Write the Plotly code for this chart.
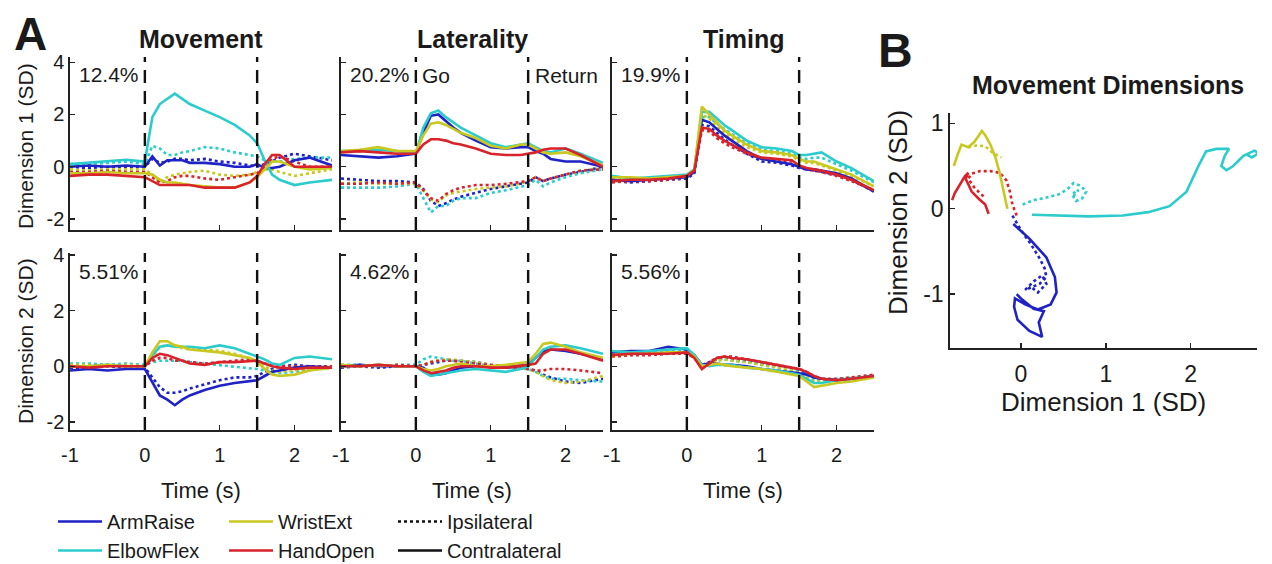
import plotly.graph_objects as go

# page geometry: the html body adds an 8px margin before the figure
PAGE_W, PAGE_H, OFF = 1272, 564, 8
W, H = PAGE_W - OFF, PAGE_H - OFF

# ---------------- data ----------------
T = [-1.0, -0.75, -0.5, -0.25, 0.0, 0.1, 0.2, 0.3, 0.4, 0.5, 0.6, 0.8, 1.0, 1.2, 1.4, 1.5, 1.6, 1.7, 1.8, 2.0, 2.2, 2.5]
EVENTS = [0.0, 1.5]
MOVES = ["ArmRaise", "ElbowFlex", "WristExt", "HandOpen"]
COLORS = ["#1f22c4", "#2ccbcc", "#c8c820", "#d8232a"]
COL_TITLES = ["Movement", "Laterality", "Timing"]
PCT = ["12.4%", "20.2%", "19.9%", "5.51%", "4.62%", "5.56%"]
X_TICKS = [-1, 0, 1, 2]
X_TICKTEXT = ["-1", "0", "1", "2"]
Y_TICKS = [-2, 0, 2, 4]
Y_TICKTEXT = ["-2", "0", "2", "4"]
B_X_TICKS = [0, 1, 2]
B_Y_TICKS = [-1, 0, 1]
B_Y_TICKTEXT = ["-1", "0", "1"]

# Movement, Dimension 1
MV1_ARM_C = [0.0, 0.05, 0.0, 0.05, 0.0, 0.4, 0.05, 0.25, 0.25, 0.25, 0.15, 0.15, 0.1, 0.0, 0.0, 0.1, -0.05, -0.05, 0.0, 0.25, 0.35, 0.05]
MV1_ARM_I = [0.0, -0.05, 0.0, 0.0, 0.0, 0.3, 0.15, 0.2, 0.3, 0.3, 0.25, 0.3, 0.2, 0.15, 0.05, 0.0, 0.1, 0.2, 0.35, 0.5, 0.4, 0.25]
MV1_ELB_C = [0.1, 0.15, 0.2, 0.27, 0.2, 1.9, 2.4, 2.6, 2.8, 2.6, 2.4, 2.15, 1.9, 1.6, 1.2, 0.9, 0.25, -0.3, -0.5, -0.7, -0.6, -0.5]
MV1_ELB_I = [0.1, 0.1, 0.15, 0.2, 0.1, 0.8, 0.7, 0.45, 0.45, 0.55, 0.6, 0.75, 0.7, 0.55, 0.45, 0.4, 0.25, 0.2, 0.2, 0.3, 0.35, 0.35]
MV1_WRI_C = [-0.25, -0.25, -0.2, -0.25, -0.25, -0.3, -0.5, -0.6, -0.6, -0.65, -0.7, -0.75, -0.8, -0.8, -0.6, -0.4, -0.1, 0.2, 0.2, 0.0, -0.1, -0.05]
MV1_WRI_I = [-0.1, -0.15, -0.1, -0.1, -0.1, -0.3, -0.6, -0.4, -0.3, -0.25, -0.2, -0.15, -0.3, -0.35, -0.3, -0.2, -0.1, -0.1, -0.2, -0.35, -0.25, -0.1]
MV1_HAN_C = [-0.35, -0.3, -0.3, -0.35, -0.4, -0.55, -0.7, -0.7, -0.7, -0.7, -0.7, -0.8, -0.8, -0.8, -0.6, -0.35, 0.1, 0.45, 0.45, 0.0, 0.0, 0.0]
MV1_HAN_I = [-0.2, -0.2, -0.15, -0.2, -0.2, -0.4, -0.6, -0.55, -0.4, -0.35, -0.35, -0.45, -0.5, -0.4, -0.3, -0.25, 0.0, 0.3, 0.4, 0.2, 0.0, 0.0]

# Laterality, Dimension 1
LA1_ARM_C = [0.45, 0.4, 0.35, 0.4, 0.5, 1.3, 1.95, 2.0, 1.75, 1.5, 1.3, 1.0, 0.75, 0.7, 0.75, 0.75, 0.6, 0.5, 0.3, 0.2, 0.2, 0.0]
LA1_ARM_I = [-0.45, -0.5, -0.55, -0.55, -0.6, -0.85, -1.3, -1.5, -1.4, -1.25, -1.15, -1.0, -0.85, -0.75, -0.65, -0.6, -0.4, -0.55, -0.45, -0.3, -0.2, 0.0]
LA1_ELB_C = [0.6, 0.6, 0.65, 0.6, 0.5, 1.5, 2.05, 2.15, 1.9, 1.7, 1.5, 1.2, 0.9, 0.75, 0.85, 0.9, 0.75, 0.6, 0.55, 0.7, 0.5, 0.15]
LA1_ELB_I = [-0.8, -0.8, -0.8, -0.75, -0.65, -1.2, -1.75, -1.5, -1.5, -1.3, -1.2, -1.2, -1.0, -0.9, -0.75, -0.7, -0.5, -0.75, -0.6, -0.4, -0.25, -0.1]
LA1_WRI_C = [0.6, 0.65, 0.75, 0.6, 0.6, 1.2, 1.65, 1.7, 1.6, 1.45, 1.3, 1.1, 0.8, 0.7, 0.85, 0.85, 0.7, 0.55, 0.5, 0.55, 0.4, 0.05]
LA1_WRI_I = [-0.65, -0.6, -0.65, -0.65, -0.65, -0.9, -1.25, -1.35, -1.1, -1.0, -0.95, -0.85, -0.8, -0.75, -0.65, -0.55, -0.4, -0.55, -0.45, -0.3, -0.15, -0.05]
LA1_HAN_C = [0.55, 0.6, 0.55, 0.5, 0.5, 0.85, 1.05, 1.05, 1.0, 0.9, 0.85, 0.7, 0.5, 0.45, 0.45, 0.5, 0.55, 0.65, 0.7, 0.7, 0.45, 0.0]
LA1_HAN_I = [-0.65, -0.65, -0.6, -0.65, -0.6, -0.9, -1.2, -1.3, -1.05, -0.9, -0.8, -0.7, -0.7, -0.65, -0.6, -0.55, -0.4, -0.55, -0.45, -0.3, -0.15, -0.1]

# Timing, Dimension 1
TI1_ARM_C = [-0.5, -0.55, -0.5, -0.45, -0.4, -0.2, 1.8, 1.7, 1.45, 1.2, 1.0, 0.6, 0.3, 0.2, 0.1, 0.0, -0.1, -0.1, -0.15, -0.25, -0.45, -0.95]
TI1_ARM_I = [-0.55, -0.6, -0.55, -0.5, -0.45, -0.25, 1.6, 1.55, 1.3, 1.05, 0.85, 0.5, 0.2, 0.15, 0.05, -0.05, -0.1, -0.15, -0.2, -0.3, -0.5, -0.95]
TI1_ELB_C = [-0.35, -0.45, -0.4, -0.35, -0.3, -0.1, 2.1, 2.1, 1.85, 1.6, 1.4, 1.0, 0.75, 0.7, 0.6, 0.45, 0.45, 0.5, 0.55, 0.2, -0.05, -0.55]
TI1_ELB_I = [-0.45, -0.5, -0.45, -0.4, -0.35, -0.15, 1.9, 1.9, 1.65, 1.45, 1.25, 0.9, 0.65, 0.6, 0.5, 0.35, 0.3, 0.35, 0.35, 0.1, -0.15, -0.6]
TI1_WRI_C = [-0.4, -0.4, -0.45, -0.4, -0.35, -0.1, 2.3, 2.0, 1.7, 1.4, 1.2, 0.85, 0.6, 0.55, 0.45, 0.3, 0.2, 0.2, 0.1, -0.1, -0.3, -0.75]
TI1_WRI_I = [-0.45, -0.45, -0.5, -0.45, -0.4, -0.15, 2.0, 1.85, 1.55, 1.3, 1.1, 0.75, 0.55, 0.5, 0.4, 0.25, 0.15, 0.15, 0.05, -0.15, -0.35, -0.75]
TI1_HAN_C = [-0.55, -0.5, -0.5, -0.45, -0.35, -0.15, 1.5, 1.45, 1.2, 1.0, 0.85, 0.55, 0.35, 0.3, 0.25, 0.05, -0.05, -0.1, -0.15, -0.3, -0.5, -0.9]
TI1_HAN_I = [-0.6, -0.55, -0.55, -0.5, -0.4, -0.2, 1.4, 1.35, 1.1, 0.9, 0.75, 0.5, 0.3, 0.25, 0.2, 0.0, -0.1, -0.15, -0.2, -0.35, -0.55, -0.9]

# Movement, Dimension 2
MV2_ARM_C = [-0.15, -0.1, -0.15, -0.1, -0.1, -0.6, -1.05, -1.2, -1.4, -1.2, -1.05, -0.85, -0.7, -0.6, -0.55, -0.5, -0.35, -0.2, -0.15, -0.05, 0.0, -0.05]
MV2_ARM_I = [-0.05, -0.05, 0.0, -0.05, -0.05, -0.4, -0.75, -0.95, -0.95, -0.9, -0.8, -0.65, -0.5, -0.4, -0.4, -0.35, -0.2, -0.1, 0.0, 0.05, 0.0, 0.0]
MV2_ELB_C = [0.0, 0.0, 0.05, 0.0, 0.0, 0.4, 0.7, 0.75, 0.7, 0.7, 0.7, 0.65, 0.75, 0.65, 0.45, 0.35, 0.25, 0.1, 0.05, 0.3, 0.35, 0.25]
MV2_ELB_I = [0.1, 0.1, 0.05, 0.1, 0.05, 0.15, 0.2, 0.2, 0.2, 0.2, 0.15, 0.1, 0.05, 0.0, -0.05, -0.1, -0.15, -0.2, -0.25, -0.2, -0.15, -0.05]
MV2_WRI_C = [0.0, 0.0, 0.05, 0.0, 0.0, 0.5, 0.9, 0.9, 0.75, 0.7, 0.6, 0.55, 0.5, 0.4, 0.3, 0.15, -0.1, -0.3, -0.35, -0.3, -0.15, -0.05]
MV2_WRI_I = [0.05, 0.05, 0.0, 0.05, 0.0, 0.3, 0.7, 0.75, 0.7, 0.65, 0.6, 0.6, 0.55, 0.45, 0.3, 0.2, 0.0, -0.15, -0.2, -0.15, -0.1, 0.0]
MV2_HAN_C = [0.0, -0.05, 0.0, 0.0, 0.0, 0.3, 0.45, 0.4, 0.3, 0.2, 0.1, 0.05, 0.15, 0.15, 0.2, 0.2, 0.1, 0.0, -0.05, -0.1, -0.05, -0.05]
MV2_HAN_I = [0.0, 0.0, 0.05, 0.0, 0.0, 0.2, 0.3, 0.3, 0.2, 0.2, 0.15, 0.1, 0.15, 0.2, 0.25, 0.2, 0.1, 0.05, 0.0, 0.0, 0.0, 0.0]

# Laterality, Dimension 2
LA2_ARM_C = [0.0, 0.05, 0.0, 0.0, 0.0, -0.05, -0.25, -0.3, -0.25, -0.15, -0.05, 0.0, 0.0, -0.05, 0.0, 0.05, 0.3, 0.55, 0.6, 0.55, 0.45, 0.25]
LA2_ARM_I = [-0.05, 0.0, -0.05, 0.0, 0.0, 0.05, 0.1, 0.15, 0.2, 0.2, 0.2, 0.15, 0.05, 0.0, -0.05, -0.1, -0.15, -0.3, -0.4, -0.55, -0.6, -0.45]
LA2_ELB_C = [0.0, 0.0, 0.05, 0.0, 0.0, -0.2, -0.35, -0.3, -0.25, -0.2, -0.15, -0.1, -0.15, -0.2, -0.1, 0.0, 0.3, 0.6, 0.7, 0.75, 0.65, 0.45]
LA2_ELB_I = [0.05, 0.05, 0.0, 0.05, 0.05, 0.25, 0.35, 0.3, 0.25, 0.2, 0.2, 0.1, 0.0, -0.05, -0.1, -0.1, -0.2, -0.35, -0.45, -0.45, -0.5, -0.55]
LA2_WRI_C = [0.05, 0.0, 0.05, 0.0, 0.0, -0.1, -0.15, -0.1, 0.0, 0.05, 0.1, 0.0, 0.0, 0.05, 0.1, 0.15, 0.45, 0.8, 0.85, 0.7, 0.5, 0.3]
LA2_WRI_I = [0.05, 0.0, 0.05, 0.0, 0.0, 0.05, 0.15, 0.2, 0.25, 0.25, 0.2, 0.15, 0.05, 0.0, -0.05, -0.1, -0.2, -0.35, -0.5, -0.6, -0.55, -0.35]
LA2_HAN_C = [0.0, 0.0, 0.05, 0.0, 0.0, -0.15, -0.25, -0.2, -0.15, -0.05, 0.0, 0.0, -0.05, -0.05, 0.0, 0.05, 0.1, 0.45, 0.6, 0.6, 0.45, 0.2]
LA2_HAN_I = [0.0, 0.0, 0.0, 0.05, 0.0, 0.05, 0.15, 0.2, 0.2, 0.2, 0.15, 0.1, 0.05, 0.0, -0.05, -0.1, -0.15, -0.15, -0.1, -0.1, -0.15, -0.25]

# Timing, Dimension 2
TI2_ARM_C = [0.5, 0.55, 0.55, 0.7, 0.6, 0.4, 0.05, 0.1, 0.1, 0.05, 0.05, 0.0, -0.1, -0.15, -0.2, -0.25, -0.3, -0.4, -0.45, -0.5, -0.45, -0.35]
TI2_ARM_I = [0.45, 0.5, 0.5, 0.55, 0.55, 0.35, 0.05, 0.15, 0.25, 0.3, 0.25, 0.2, 0.1, 0.0, -0.1, -0.15, -0.25, -0.4, -0.45, -0.5, -0.45, -0.35]
TI2_ELB_C = [0.55, 0.5, 0.55, 0.6, 0.65, 0.4, 0.05, 0.0, 0.05, 0.05, 0.05, -0.05, -0.1, -0.15, -0.25, -0.3, -0.45, -0.6, -0.6, -0.5, -0.45, -0.35]
TI2_ELB_I = [0.5, 0.5, 0.5, 0.55, 0.6, 0.4, 0.05, 0.1, 0.2, 0.25, 0.2, 0.15, 0.05, -0.05, -0.15, -0.2, -0.35, -0.5, -0.5, -0.45, -0.4, -0.35]
TI2_WRI_C = [0.4, 0.45, 0.45, 0.5, 0.5, 0.35, 0.0, 0.05, 0.1, 0.05, 0.0, -0.05, -0.1, -0.2, -0.3, -0.35, -0.55, -0.75, -0.7, -0.6, -0.55, -0.4]
TI2_WRI_I = [0.35, 0.4, 0.45, 0.45, 0.5, 0.35, 0.0, 0.1, 0.2, 0.25, 0.2, 0.15, 0.05, -0.05, -0.15, -0.25, -0.4, -0.55, -0.55, -0.5, -0.45, -0.35]
TI2_HAN_C = [0.4, 0.45, 0.45, 0.45, 0.5, 0.3, -0.1, 0.1, 0.3, 0.35, 0.3, 0.25, 0.15, 0.05, -0.05, -0.1, -0.2, -0.35, -0.45, -0.5, -0.45, -0.35]
TI2_HAN_I = [0.35, 0.4, 0.4, 0.45, 0.45, 0.3, -0.05, 0.15, 0.3, 0.35, 0.35, 0.25, 0.15, 0.05, -0.05, -0.1, -0.2, -0.35, -0.45, -0.45, -0.4, -0.3]

# Panel B: trajectories in movement dimensions (x = Dim 1, y = Dim 2)
B_ARM_C_X = [-0.09, 0.1, 0.3, 0.4, 0.42, 0.35, 0.2, 0.05, -0.07, -0.08, -0.04, 0.1, 0.25, 0.21, 0.27, 0.15, 0.0, -0.05]
B_ARM_C_Y = [-0.18, -0.35, -0.57, -0.8, -0.98, -1.12, -1.18, -1.12, -1.05, -1.15, -1.3, -1.43, -1.5, -1.33, -1.2, -1.17, -1.05, -1.0]
B_ARM_I_X = [-0.1, 0.0, 0.12, 0.22, 0.28, 0.3, 0.22, 0.12, 0.05, 0.15, 0.25, 0.3, 0.2, 0.1]
B_ARM_I_Y = [-0.08, -0.25, -0.42, -0.58, -0.7, -0.8, -0.88, -0.92, -0.95, -0.85, -0.78, -0.88, -0.98, -0.9]
B_ELB_C_X = [0.13, 0.4, 0.8, 1.2, 1.5, 1.75, 1.95, 2.1, 2.18, 2.3, 2.45, 2.4, 2.36, 2.42, 2.5, 2.62, 2.75, 2.8, 2.72, 2.65]
B_ELB_C_Y = [-0.07, -0.08, -0.09, -0.08, -0.04, 0.03, 0.2, 0.52, 0.67, 0.7, 0.7, 0.62, 0.5, 0.45, 0.5, 0.62, 0.68, 0.65, 0.6, 0.64]
B_ELB_I_X = [0.02, 0.15, 0.3, 0.45, 0.55, 0.62, 0.7, 0.77, 0.72, 0.65, 0.6, 0.68, 0.62]
B_ELB_I_Y = [0.05, 0.1, 0.13, 0.17, 0.23, 0.3, 0.27, 0.2, 0.12, 0.09, 0.17, 0.22, 0.15]
B_WRI_C_X = [-0.16, -0.2, -0.25, -0.3, -0.36, -0.42, -0.46, -0.5, -0.55, -0.62, -0.7, -0.75, -0.79]
B_WRI_C_Y = [0.0, 0.2, 0.42, 0.6, 0.75, 0.86, 0.91, 0.85, 0.78, 0.72, 0.75, 0.62, 0.5]
B_WRI_I_X = [-0.62, -0.52, -0.42, -0.34, -0.27, -0.23]
B_WRI_I_Y = [0.72, 0.74, 0.73, 0.66, 0.62, 0.6]
B_HAN_C_X = [-0.38, -0.42, -0.5, -0.58, -0.65, -0.62, -0.66, -0.72, -0.78, -0.81]
B_HAN_C_Y = [-0.06, 0.05, 0.12, 0.2, 0.35, 0.42, 0.38, 0.28, 0.18, 0.1]
B_HAN_I_X = [-0.05, -0.1, -0.13, -0.17, -0.25, -0.36, -0.48, -0.58, -0.62, -0.55, -0.47, -0.42]
B_HAN_I_Y = [-0.08, 0.05, 0.2, 0.33, 0.42, 0.44, 0.44, 0.41, 0.35, 0.25, 0.17, 0.13]

PANELS = [
    [(MV1_ARM_C, MV1_ARM_I), (MV1_ELB_C, MV1_ELB_I), (MV1_WRI_C, MV1_WRI_I), (MV1_HAN_C, MV1_HAN_I)],
    [(LA1_ARM_C, LA1_ARM_I), (LA1_ELB_C, LA1_ELB_I), (LA1_WRI_C, LA1_WRI_I), (LA1_HAN_C, LA1_HAN_I)],
    [(TI1_ARM_C, TI1_ARM_I), (TI1_ELB_C, TI1_ELB_I), (TI1_WRI_C, TI1_WRI_I), (TI1_HAN_C, TI1_HAN_I)],
    [(MV2_ARM_C, MV2_ARM_I), (MV2_ELB_C, MV2_ELB_I), (MV2_WRI_C, MV2_WRI_I), (MV2_HAN_C, MV2_HAN_I)],
    [(LA2_ARM_C, LA2_ARM_I), (LA2_ELB_C, LA2_ELB_I), (LA2_WRI_C, LA2_WRI_I), (LA2_HAN_C, LA2_HAN_I)],
    [(TI2_ARM_C, TI2_ARM_I), (TI2_ELB_C, TI2_ELB_I), (TI2_WRI_C, TI2_WRI_I), (TI2_HAN_C, TI2_HAN_I)],
]
B_TRAJ = [
    ((B_ARM_C_X, B_ARM_C_Y), (B_ARM_I_X, B_ARM_I_Y)),
    ((B_ELB_C_X, B_ELB_C_Y), (B_ELB_I_X, B_ELB_I_Y)),
    ((B_WRI_C_X, B_WRI_C_Y), (B_WRI_I_X, B_WRI_I_Y)),
    ((B_HAN_C_X, B_HAN_C_Y), (B_HAN_I_X, B_HAN_I_Y)),
]

# ---------------- layout geometry (screen pixels) ----------------
COL_PX = [(70, 332), (341, 603), (612, 874)]
ROW_PX = [(57, 230), (253, 430)]
Y_RANGES = [[-2.42, 4.2], [-2.29, 4.07]]
B_PX_X = (950, 1257)
B_PX_Y = (113, 348)

FONT = "Liberation Sans, Arial, Helvetica, sans-serif"
TXT = "#1a1a1a"
LW = 2.6


def px_x(p):
    return (p - OFF) / W


def px_y(p):
    return 1 - (p - OFF) / H


fig = go.Figure()
layout = dict(
    width=W, height=H,
    margin=dict(l=0, r=0, t=0, b=0, pad=0, autoexpand=False),
    paper_bgcolor="white", plot_bgcolor="white",
    font=dict(family=FONT, color=TXT, size=20),
    hovermode=False,
    showlegend=True,
)

shapes = []
annotations = []

for k in range(6):
    r, c = divmod(k, 3)
    ax = k + 1
    xname = "x" if ax == 1 else f"x{ax}"
    yname = "y" if ax == 1 else f"y{ax}"
    layout["xaxis" if ax == 1 else f"xaxis{ax}"] = dict(
        domain=[px_x(COL_PX[c][0]), px_x(COL_PX[c][1])],
        range=[-1, 2.5], anchor=yname,
        showline=True, linecolor="#222", linewidth=1.6, mirror=False,
        ticks="inside", ticklen=5, tickwidth=1.4, tickcolor="#222",
        tickvals=X_TICKS, ticktext=X_TICKTEXT, showticklabels=(r == 1),
        tickfont=dict(size=20, family=FONT, color=TXT),
        ticklabelstandoff=6,
        showgrid=False, zeroline=False, fixedrange=True,
    )
    layout["yaxis" if ax == 1 else f"yaxis{ax}"] = dict(
        domain=[px_y(ROW_PX[r][1]), px_y(ROW_PX[r][0])],
        range=Y_RANGES[r], anchor=xname,
        showline=True, linecolor="#222", linewidth=1.6,
        ticks="inside", ticklen=5, tickwidth=1.4, tickcolor="#222",
        tickvals=Y_TICKS, ticktext=Y_TICKTEXT, showticklabels=(c == 0),
        tickfont=dict(size=20, family=FONT, color=TXT),
        showgrid=False, zeroline=False, fixedrange=True,
    )
    series = PANELS[k]
    # ipsilateral (dotted) first, contralateral (solid) on top
    for side in (1, 0):
        for m, (name, col) in enumerate(zip(MOVES, COLORS)):
            yvals = series[m][side]
            show = (k == 0 and side == 0)
            fig.add_trace(go.Scatter(
                x=T, y=yvals, mode="lines", xaxis=xname, yaxis=yname,
                line=dict(color=col, width=LW, dash=("solid" if side == 0 else "dot")),
                name=name, showlegend=show,
                legend=("legend" if m in (0, 1) else "legend2"),
                legendrank=m,
            ))
    for ev in EVENTS:
        shapes.append(dict(type="line", xref=xname, yref=f"{yname} domain",
                           x0=ev, x1=ev, y0=0, y1=1,
                           line=dict(color="#111", width=2.4, dash="13px,8px")))

# panel B
layout["xaxis7"] = dict(
    domain=[px_x(B_PX_X[0]), px_x(B_PX_X[1])], range=[-0.835, 2.78], anchor="y7",
    showline=True, linecolor="#222", linewidth=1.8,
    ticks="inside", ticklen=5, tickwidth=1.4, tickcolor="#222",
    tickvals=B_X_TICKS, tickfont=dict(size=23, family=FONT, color=TXT),
    ticklabelstandoff=5,
    showgrid=False, zeroline=False, fixedrange=True,
)
layout["yaxis7"] = dict(
    domain=[px_y(B_PX_Y[1]), px_y(B_PX_Y[0])], range=[-1.63, 1.12], anchor="x7",
    showline=True, linecolor="#222", linewidth=1.8,
    ticks="inside", ticklen=5, tickwidth=1.4, tickcolor="#222",
    tickvals=B_Y_TICKS, ticktext=B_Y_TICKTEXT, tickfont=dict(size=23, family=FONT, color=TXT),
    showgrid=False, zeroline=False, fixedrange=True,
)
for side in (1, 0):
    for m, col in enumerate(COLORS):
        xs, ys = B_TRAJ[m][side]
        fig.add_trace(go.Scatter(
            x=xs, y=ys, mode="lines", xaxis="x7", yaxis="y7",
            line=dict(color=col, width=LW, dash=("solid" if side == 0 else "dot")),
            showlegend=False,
        ))

# style legend entries
fig.add_trace(go.Scatter(x=[None], y=[None], mode="lines", name="Ipsilateral",
                         line=dict(color="#111", width=LW, dash="dot"),
                         legend="legend3", legendrank=1))
fig.add_trace(go.Scatter(x=[None], y=[None], mode="lines", name="Contralateral",
                         line=dict(color="#111", width=LW),
                         legend="legend3", legendrank=2))

leg_common = dict(yanchor="top", y=px_y(502), xanchor="left", orientation="v",
                  font=dict(size=20, family=FONT, color=TXT), itemwidth=44,
                  bgcolor="rgba(0,0,0,0)", borderwidth=0, tracegroupgap=0,
                  traceorder="normal", itemclick=False, itemdoubleclick=False)
layout["legend"] = dict(leg_common, x=px_x(53))
layout["legend2"] = dict(leg_common, x=px_x(224))
layout["legend3"] = dict(leg_common, x=px_x(393))


def ann(text, x, y, size=20, bold=False, angle=0, xanchor="center"):
    annotations.append(dict(
        text=(f"<b>{text}</b>" if bold else text), x=px_x(x), y=px_y(y),
        xref="paper", yref="paper", showarrow=False, textangle=angle,
        xanchor=xanchor, yanchor="middle",
        font=dict(size=size, family=FONT, color=TXT)))


ann("A", 30, 34, size=46, bold=True)
ann("B", 895, 51, size=48, bold=True)
for c, title in enumerate(COL_TITLES):
    cx = (COL_PX[c][0] + COL_PX[c][1]) / 2
    ann(title, cx, 39, size=25, bold=True)
    ann("Time (s)", cx, 490, size=22)
for k, pct in enumerate(PCT):
    r, c = divmod(k, 3)
    ann(pct, COL_PX[c][0] + 7, (74, 272)[r], size=21, xanchor="left")
ann("Go", 420, 75, size=21, xanchor="left")
ann("Return", 533, 75, size=21, xanchor="left")
ann("Dimension 1 (SD)", 25, 146, size=21, angle=-90)
ann("Dimension 2 (SD)", 25, 341, size=21, angle=-90)
ann("Movement Dimensions", 1108, 85, size=25, bold=True)
ann("Dimension 1 (SD)", 1103, 402, size=26)
ann("Dimension 2 (SD)", 898, 213, size=26, angle=-90)

layout["shapes"] = shapes
layout["annotations"] = annotations
fig.update_layout(**layout)

fig.write_html("out.html", config={"displayModeBar": False, "staticPlot": True})
